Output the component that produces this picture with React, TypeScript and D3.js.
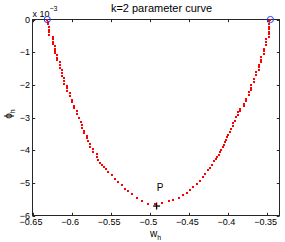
import React from "react";
import * as d3 from "d3";

// k=2 parameter curve: w_h values and phi_h values (phi in units of 1e-3)
const curveW: number[] = [
  -0.6311,
  -0.6306, -0.6306,
  -0.6285, -0.6285, -0.6285, -0.6285,
  -0.6242, -0.6242, -0.6242, -0.6242,
  -0.6216, -0.6216, -0.6216, -0.6216,
  -0.6187, -0.6187, -0.6187,
  -0.6152, -0.6152, -0.6152,
  -0.6123, -0.6123, -0.6123,
  -0.6093, -0.6093, -0.6093,
  -0.6059, -0.6059, -0.6059,
  -0.6024, -0.6024,
  -0.5995, -0.5995,
  -0.5965, -0.5965,
  -0.5931, -0.5931,
  -0.5905, -0.5886,
  -0.5863, -0.5863,
  -0.5838, -0.5838,
  -0.5807, -0.5807,
  -0.5784,
  -0.5765, -0.5765,
  -0.5723, -0.5723,
  -0.5679, -0.5679,
  -0.5656, -0.5637, -0.5607, -0.5583, -0.556, -0.5531, -0.5487, -0.5445,
  -0.5403, -0.5359, -0.5317, -0.5275, -0.5224, -0.5168, -0.5104, -0.5019,
  -0.4934, -0.4848, -0.4751, -0.47, -0.4623, -0.4572, -0.4528, -0.4486,
  -0.4444, -0.44, -0.4358, -0.4324, -0.4294, -0.4252, -0.423, -0.4208,
  -0.4179, -0.4159, -0.4137, -0.412, -0.4102, -0.4086, -0.4068, -0.4054,
  -0.4038, -0.4026, -0.4009, -0.3994, -0.3974, -0.3962, -0.394, -0.393,
  -0.391, -0.3891,
  -0.3872, -0.3872,
  -0.3843, -0.3843,
  -0.3799, -0.3799,
  -0.377, -0.377,
  -0.3735, -0.3735,
  -0.3702, -0.3702, -0.3702,
  -0.3671, -0.3671,
  -0.3642, -0.3642,
  -0.3607, -0.3607, -0.3607,
  -0.3574, -0.3574, -0.3574,
  -0.354, -0.354, -0.354,
  -0.351, -0.351, -0.351,
  -0.348, -0.348, -0.348, -0.348, -0.348, -0.348, -0.348,
  -0.3457,
];

const curvePhi: number[] = [
  0,
  -0.077, -0.153,
  -0.23, -0.307, -0.384, -0.46,
  -0.522, -0.599, -0.675, -0.752,
  -0.813, -0.89, -0.967, -1.028,
  -1.09, -1.166, -1.243,
  -1.304, -1.381, -1.473,
  -1.55, -1.627, -1.719,
  -1.796, -1.872, -1.964,
  -2.026, -2.103, -2.179,
  -2.256, -2.333,
  -2.456, -2.532,
  -2.64, -2.716,
  -2.808, -2.901,
  -3.023, -3.131,
  -3.238, -3.33,
  -3.407, -3.484,
  -3.56, -3.637,
  -3.729,
  -3.821, -3.913,
  -3.975, -4.067,
  -4.128, -4.22,
  -4.312, -4.383, -4.466, -4.512, -4.583, -4.672, -4.751, -4.874,
  -4.979, -5.08, -5.181, -5.255, -5.356, -5.457, -5.571, -5.642,
  -5.654, -5.632, -5.562, -5.519, -5.457, -5.387, -5.316, -5.233,
  -5.132, -5.049, -4.948, -4.825, -4.721, -4.598, -4.537, -4.466,
  -4.343, -4.282, -4.22, -4.144, -4.067, -3.99, -3.913, -3.837,
  -3.76, -3.683, -3.607, -3.53, -3.444, -3.361, -3.269, -3.177,
  -3.1, -2.993,
  -2.839, -2.916,
  -2.732, -2.808,
  -2.578, -2.655,
  -2.425, -2.502,
  -2.225, -2.302,
  -2.01, -2.087, -2.164,
  -1.811, -1.903,
  -1.611, -1.688,
  -1.381, -1.458, -1.535,
  -1.151, -1.228, -1.304,
  -0.89, -0.967, -1.044,
  -0.599, -0.675, -0.767,
  -0.061, -0.138, -0.215, -0.292, -0.368, -0.445, -0.522,
  0,
];

// End points (blue circles)
const endW: number[] = [-0.6311, -0.3457];
const endPhi: number[] = [0, 0];

// Point P (black plus)
const pointPW = -0.4913;
const pointPPhi = -5.71;
const pointPLabel = "P";

const xTicks: number[] = [-0.65, -0.6, -0.55, -0.5, -0.45, -0.4, -0.35];
const xTickLabels: string[] = ["\u22120.65", "\u22120.6", "\u22120.55", "\u22120.5", "\u22120.45", "\u22120.4", "\u22120.35"];
const yTicks: number[] = [0, -1, -2, -3, -4, -5, -6];
const yTickLabels: string[] = ["0", "\u22121", "\u22122", "\u22123", "\u22124", "\u22125", "\u22126"];

const titleText = "k=2 parameter curve";
const xDomain: [number, number] = [-0.65, -0.3341];
const yDomain: [number, number] = [-6, 0];

export default function App() {
  const W = 285;
  const H = 242;
  const left = 32.5, right = 279.5, top = 19.5, bottom = 215.5;
  const x = d3.scaleLinear().domain(xDomain).range([left, right]);
  const y = d3.scaleLinear().domain(yDomain).range([bottom, top]);
  const font = "'Liberation Sans', Arial, Helvetica, sans-serif";
  const axisColor = "#262626";
  const tickLen = 2.7;

  const pts = curveW.map((w, i) => ({ w, p: curvePhi[i] }));

  return (
    <svg
      width={W}
      height={H}
      style={{ position: "absolute", left: 0, top: 0, background: "#fff" }}
      fontFamily={font}
    >
      <rect x={0} y={0} width={W} height={H} fill="#fff" />
      {/* axes box */}
      <rect x={left} y={top} width={right - left} height={bottom - top} fill="none" stroke={axisColor} strokeWidth={1} />
      {/* x ticks */}
      {xTicks.map((t, i) => (
        <g key={"xt" + i}>
          <line x1={Math.round(x(t)) + 0.5} x2={Math.round(x(t)) + 0.5} y1={bottom} y2={bottom - tickLen} stroke={axisColor} strokeWidth={1} />
          <line x1={Math.round(x(t)) + 0.5} x2={Math.round(x(t)) + 0.5} y1={top} y2={top + tickLen} stroke={axisColor} strokeWidth={1} />
          <text x={x(t) - 1.5} y={225} fontSize={9} textAnchor="middle" fill="#000">
            {xTickLabels[i]}
          </text>
        </g>
      ))}
      {/* y ticks */}
      {yTicks.map((t, i) => (
        <g key={"yt" + i}>
          <line x1={left} x2={left + tickLen} y1={Math.round(y(t)) + 0.5} y2={Math.round(y(t)) + 0.5} stroke={axisColor} strokeWidth={1} />
          <line x1={right} x2={right - tickLen} y1={Math.round(y(t)) + 0.5} y2={Math.round(y(t)) + 0.5} stroke={axisColor} strokeWidth={1} />
          <text x={left - 2.5} y={y(t) + 3.2} fontSize={9} textAnchor="end" fill="#000">
            {yTickLabels[i]}
          </text>
        </g>
      ))}
      {/* exponent label */}
      <text x={32.5} y={16.5} fontSize={9} fill="#000">
        x 10
        <tspan fontSize={7} dy={-6}>{"\u22123"}</tspan>
      </text>
      {/* title */}
      <text x={161.5} y={11.5} fontSize={11} textAnchor="middle" fill="#000">
        {titleText}
      </text>
      {/* x label */}
      <text x={155.5} y={236.7} fontSize={10} textAnchor="middle" fill="#000">
        w<tspan fontSize={7} dy={3}>h</tspan>
      </text>
      {/* y label */}
      <text transform={`translate(11.5,114) rotate(-90)`} fontSize={10} textAnchor="middle" fill="#000">
        {"\u03D5"}<tspan fontSize={7} dy={3}>h</tspan>
      </text>
      {/* curve points */}
      {pts.map((d, i) => (
        <rect
          key={"p" + i}
          x={Math.round(x(d.w)) - 1}
          y={Math.round(y(d.p)) - 1}
          width={2}
          height={2}
          fill="#ff0000"
          shapeRendering="crispEdges"
        />
      ))}
      {/* end circles */}
      {endW.map((w, i) => (
        <circle key={"c" + i} cx={x(w)} cy={y(endPhi[i])} r={3.1} fill="none" stroke="#1f3fff" strokeWidth={1} />
      ))}
      {/* P marker */}
      <g stroke="#000" strokeWidth={1.3}>
        <line x1={x(pointPW) - 3.5} x2={x(pointPW) + 3.5} y1={y(pointPPhi)} y2={y(pointPPhi)} />
        <line x1={x(pointPW)} x2={x(pointPW)} y1={y(pointPPhi) - 3.5} y2={y(pointPPhi) + 3.5} />
      </g>
      <text x={x(pointPW) + 3.6} y={y(pointPPhi) - 15.5} fontSize={10} textAnchor="middle" fill="#000">
        {pointPLabel}
      </text>
    </svg>
  );
}
